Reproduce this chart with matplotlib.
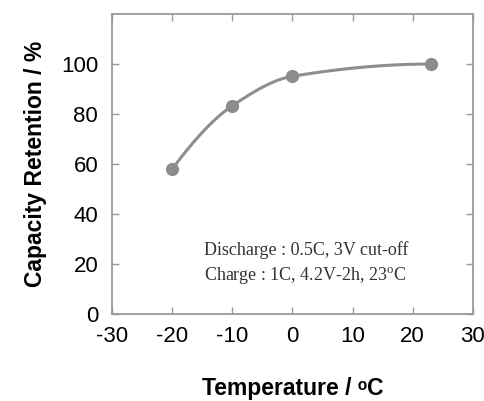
import numpy as np
import matplotlib
matplotlib.use('Agg')
import matplotlib.pyplot as plt

# capacity retention vs temperature
temperature = [-20, -10, 0, 23]
retention = [58, 83.3, 95.1, 100]

x_ticks = [-30, -20, -10, 0, 10, 20, 30]
y_ticks = [0, 20, 40, 60, 80, 100]
note_lines = ['Discharge : 0.5C, 3V cut-off', 'Charge : 1C, 4.2V-2h, 23$^{\\rm o}$C']

plt.rcParams['mathtext.fontset'] = 'custom'
plt.rcParams['mathtext.rm'] = 'Liberation Serif'


def pchip(x, y, xs):
    # monotone cubic curve for the smooth line between the points
    x = np.asarray(x, float)
    y = np.asarray(y, float)
    h = np.diff(x)
    d = np.diff(y) / h
    m = np.zeros_like(y)
    for k in range(1, len(x) - 1):
        if d[k - 1] * d[k] > 0:
            w1 = 2 * h[k] + h[k - 1]
            w2 = h[k] + 2 * h[k - 1]
            m[k] = (w1 + w2) / (w1 / d[k - 1] + w2 / d[k])
    m[0] = ((2 * h[0] + h[1]) * d[0] - h[0] * d[1]) / (h[0] + h[1])
    m[-1] = ((2 * h[-1] + h[-2]) * d[-1] - h[-1] * d[-2]) / (h[-1] + h[-2])
    m[-1] = max(m[-1], 0)
    out = np.empty_like(xs)
    for i, xv in enumerate(xs):
        k = min(np.searchsorted(x, xv) - 1, len(x) - 2)
        k = max(k, 0)
        t = (xv - x[k]) / h[k]
        h00 = 2 * t**3 - 3 * t**2 + 1
        h10 = t**3 - 2 * t**2 + t
        h01 = -2 * t**3 + 3 * t**2
        h11 = t**3 - t**2
        out[i] = h00 * y[k] + h10 * h[k] * m[k] + h01 * y[k + 1] + h11 * h[k] * m[k + 1]
    return out


fig = plt.figure(figsize=(4.85, 4.01), dpi=100)
ax = fig.add_axes([0.231, 0.217, 0.744, 0.748])

xs = np.linspace(temperature[0], temperature[-1], 200)
ax.plot(xs, pchip(temperature, retention, xs), color='#8e8e8e', lw=2.2, zorder=2)
ax.plot(temperature, retention, 'o', color='#8c8c8c', ms=8.5, zorder=3)

ax.set_xlim(-30, 30)
ax.set_ylim(0, 120)
ax.set_xticks(x_ticks)
ax.set_yticks(y_ticks)
ax.set_xticklabels([str(v) for v in x_ticks], fontfamily='Liberation Sans', fontsize=16)
ax.set_yticklabels([str(v) for v in y_ticks], fontfamily='Liberation Sans', fontsize=16)
ax.tick_params(direction='in', length=5, width=1, color='#999999',
               top=True, right=True, labeltop=False, labelright=False)
ax.tick_params(axis='x', pad=9)
ax.tick_params(axis='y', pad=10)
for s in ax.spines.values():
    s.set_color('#999999')
    s.set_linewidth(1.3)

ax.set_ylabel('Capacity Retention / %', fontfamily='Liberation Sans', fontweight='bold',
              fontsize=16.5, labelpad=10)
# small raised "o" before C in the axis title
ax.set_xlabel('Temperature / \u1d52C', fontfamily=['Liberation Sans', 'DejaVu Sans'],
              fontweight='bold', fontsize=16.5, labelpad=21)

ax.text(-14.7, 25.6, note_lines[0], fontfamily='Liberation Serif', fontsize=13, color='#333333',
        va='center')
ax.text(-14.7, 15.2, note_lines[1], fontfamily='Liberation Serif', fontsize=13, color='#333333',
        va='center')

fig.savefig('out.png', dpi=100)
